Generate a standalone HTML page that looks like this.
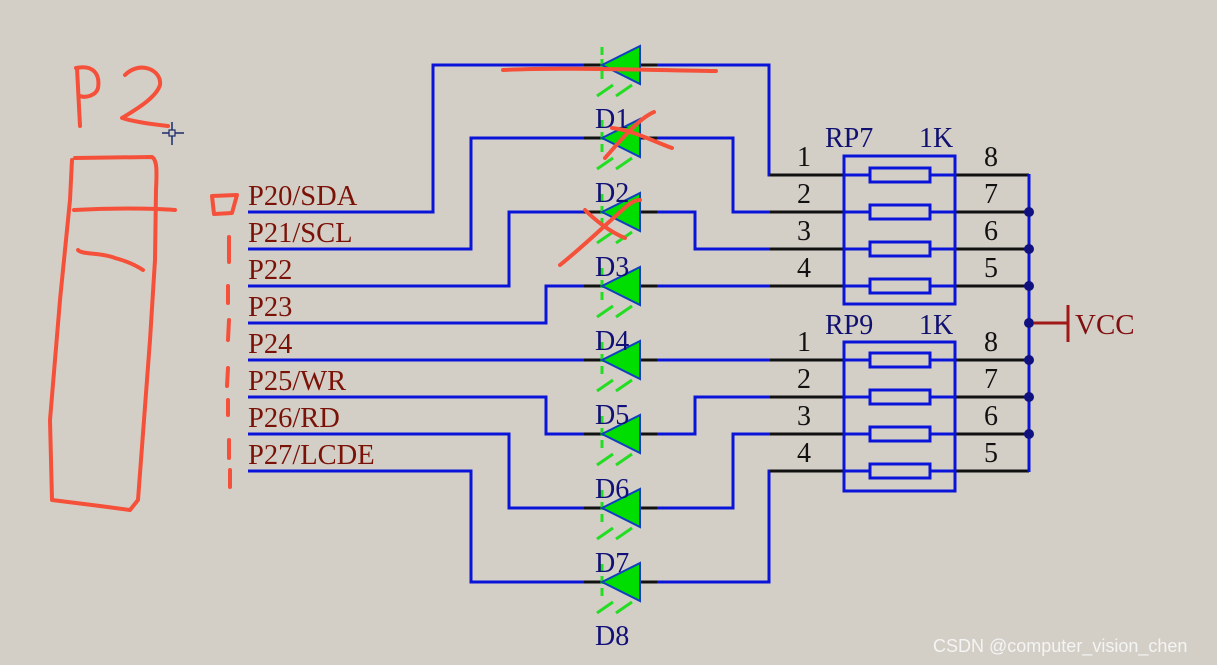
<!DOCTYPE html>
<html><head><meta charset="utf-8"><style>
html,body{margin:0;padding:0;background:#d4cfc6;}
svg{display:block;}
text{font-family:"Liberation Serif",serif;}
</style></head><body>
<svg width="1217" height="665" viewBox="0 0 1217 665" xmlns="http://www.w3.org/2000/svg">
<rect width="1217" height="665" fill="#d4cfc6"/>
<g fill="none" stroke="#0a14d8" stroke-width="3">
<polyline points="248,212 433,212 433,65 584,65"/><polyline points="657,65 769,65 769,175 843,175"/>
<polyline points="248,249 471,249 471,138 584,138"/><polyline points="657,138 733,138 733,212 843,212"/>
<polyline points="248,286 509,286 509,212 584,212"/><polyline points="657,212 695,212 695,249 843,249"/>
<polyline points="248,323 546,323 546,286 584,286"/><polyline points="657,286 843,286"/>
<polyline points="248,360 584,360"/><polyline points="657,360 843,360"/>
<polyline points="248,397 546,397 546,434 584,434"/><polyline points="657,434 695,434 695,397 843,397"/>
<polyline points="248,434 509,434 509,508 584,508"/><polyline points="657,508 733,508 733,434 843,434"/>
<polyline points="248,471 471,471 471,582 584,582"/><polyline points="657,582 769,582 769,471 843,471"/>
</g>
<g stroke="#111" stroke-width="3">
<line x1="584" y1="65" x2="602" y2="65"/><line x1="640" y1="65" x2="657" y2="65"/>
<line x1="584" y1="138" x2="602" y2="138"/><line x1="640" y1="138" x2="657" y2="138"/>
<line x1="584" y1="212" x2="602" y2="212"/><line x1="640" y1="212" x2="657" y2="212"/>
<line x1="584" y1="286" x2="602" y2="286"/><line x1="640" y1="286" x2="657" y2="286"/>
<line x1="584" y1="360" x2="602" y2="360"/><line x1="640" y1="360" x2="657" y2="360"/>
<line x1="584" y1="434" x2="602" y2="434"/><line x1="640" y1="434" x2="657" y2="434"/>
<line x1="584" y1="508" x2="602" y2="508"/><line x1="640" y1="508" x2="657" y2="508"/>
<line x1="584" y1="582" x2="602" y2="582"/><line x1="640" y1="582" x2="657" y2="582"/>
<line x1="770" y1="175" x2="843" y2="175"/><line x1="770" y1="212" x2="843" y2="212"/>
<line x1="770" y1="249" x2="843" y2="249"/><line x1="770" y1="286" x2="843" y2="286"/>
<line x1="770" y1="360" x2="843" y2="360"/><line x1="770" y1="397" x2="843" y2="397"/>
<line x1="770" y1="434" x2="843" y2="434"/><line x1="770" y1="471" x2="843" y2="471"/>
<line x1="955" y1="175" x2="1029" y2="175"/><line x1="955" y1="212" x2="1029" y2="212"/>
<line x1="955" y1="249" x2="1029" y2="249"/><line x1="955" y1="286" x2="1029" y2="286"/>
<line x1="955" y1="360" x2="1029" y2="360"/><line x1="955" y1="397" x2="1029" y2="397"/>
<line x1="955" y1="434" x2="1029" y2="434"/><line x1="955" y1="471" x2="1029" y2="471"/>
</g>
<line x1="1029" y1="174" x2="1029" y2="472" stroke="#0a14d8" stroke-width="3"/>
<g fill="#101080">
<circle cx="1029" cy="212" r="5"/><circle cx="1029" cy="249" r="5"/><circle cx="1029" cy="286" r="5"/>
<circle cx="1029" cy="323" r="5"/><circle cx="1029" cy="360" r="5"/><circle cx="1029" cy="397" r="5"/><circle cx="1029" cy="434" r="5"/>
</g>
<line x1="1034" y1="323" x2="1068" y2="323" stroke="#a01818" stroke-width="3"/>
<line x1="1068" y1="305" x2="1068" y2="342" stroke="#a01818" stroke-width="3"/>
<text x="1075" y="334" font-size="29" fill="#801010">VCC</text>
<g fill="none" stroke="#0a14d8" stroke-width="3">
<rect x="844" y="156" width="111" height="148"/><rect x="844" y="342" width="111" height="149"/>
<rect x="870" y="168" width="60" height="14"/><rect x="870" y="205" width="60" height="14"/>
<rect x="870" y="242" width="60" height="14"/><rect x="870" y="279" width="60" height="14"/>
<rect x="870" y="353" width="60" height="14"/><rect x="870" y="390" width="60" height="14"/>
<rect x="870" y="427" width="60" height="14"/><rect x="870" y="464" width="60" height="14"/>
<line x1="844" y1="175" x2="870" y2="175"/><line x1="930" y1="175" x2="955" y2="175"/>
<line x1="844" y1="212" x2="870" y2="212"/><line x1="930" y1="212" x2="955" y2="212"/>
<line x1="844" y1="249" x2="870" y2="249"/><line x1="930" y1="249" x2="955" y2="249"/>
<line x1="844" y1="286" x2="870" y2="286"/><line x1="930" y1="286" x2="955" y2="286"/>
<line x1="844" y1="360" x2="870" y2="360"/><line x1="930" y1="360" x2="955" y2="360"/>
<line x1="844" y1="397" x2="870" y2="397"/><line x1="930" y1="397" x2="955" y2="397"/>
<line x1="844" y1="434" x2="870" y2="434"/><line x1="930" y1="434" x2="955" y2="434"/>
<line x1="844" y1="471" x2="870" y2="471"/><line x1="930" y1="471" x2="955" y2="471"/>
</g>
<g font-size="28" fill="#101070">
<text x="825" y="147">RP7</text><text x="919" y="147">1K</text>
<text x="825" y="334">RP9</text><text x="919" y="334">1K</text>
</g>
<g font-size="28" fill="#111">
<text x="797" y="166">1</text><text x="797" y="203">2</text><text x="797" y="240">3</text><text x="797" y="277">4</text>
<text x="984" y="166">8</text><text x="984" y="203">7</text><text x="984" y="240">6</text><text x="984" y="277">5</text>
<text x="797" y="351">1</text><text x="797" y="388">2</text><text x="797" y="425">3</text><text x="797" y="462">4</text>
<text x="984" y="351">8</text><text x="984" y="388">7</text><text x="984" y="425">6</text><text x="984" y="462">5</text>
</g>
<defs>
<g id="d">
<line x1="602" y1="-18" x2="602" y2="18" stroke="#22dd22" stroke-width="3" stroke-dasharray="8,4"/>
<polygon points="602,0 640,-19 640,19" fill="#00dd00" stroke="#1040c0" stroke-width="2"/>
<line x1="597" y1="31" x2="613" y2="20" stroke="#22dd22" stroke-width="3"/>
<line x1="616" y1="31" x2="632" y2="20" stroke="#22dd22" stroke-width="3"/>
</g>
</defs>
<use href="#d" y="65"/><use href="#d" y="138"/><use href="#d" y="212"/><use href="#d" y="286"/>
<use href="#d" y="360"/><use href="#d" y="434"/><use href="#d" y="508"/><use href="#d" y="582"/>
<g font-size="28" fill="#101078">
<text x="595" y="128">D1</text><text x="595" y="202">D2</text><text x="595" y="276">D3</text><text x="595" y="350">D4</text>
<text x="595" y="424">D5</text><text x="595" y="498">D6</text><text x="595" y="572">D7</text><text x="595" y="645">D8</text>
</g>
<g font-size="28.5" fill="#7a1208">
<text x="248" y="205">P20/SDA</text><text x="248" y="242">P21/SCL</text><text x="248" y="279">P22</text>
<text x="248" y="316">P23</text><text x="248" y="353">P24</text><text x="248" y="390">P25/WR</text>
<text x="248" y="427">P26/RD</text><text x="248" y="464">P27/LCDE</text>
</g>
<g fill="none" stroke="#f5503a" stroke-width="4" stroke-linecap="round" stroke-linejoin="round">
<path d="M77,68 L80,126 M76,68 C95,64 100,76 98,88 C96,96 85,98 80,96"/>
<path d="M125,75 C140,60 162,70 160,85 C156,98 135,110 122,118 C135,122 150,124 168,126"/>
<path d="M75,158 L152,157 C157,160 157,170 156,190 L155,260 L150,340 L138,500 L130,510 L100,506 L52,500 L50,420 L60,300 L70,200 L72,160"/>
<path d="M74,210 C110,208 150,208 175,210"/>
<path d="M78,250 C82,255 100,252 115,258 C130,262 140,268 143,270"/>
<path d="M212,196 L237,195 L232,213 L214,214 Z"/>
<path d="M229,237 L229,262 M228,286 L228,303 M229,320 L228,340 M228,368 L227,386 M228,400 L228,415 M229,440 L229,458 M230,470 L230,487"/>
<path d="M503,70 C560,67 640,70 716,71"/>
<path d="M605,158 C625,135 640,118 654,112 M612,128 C632,130 655,142 672,148"/>
<path d="M560,265 C585,245 605,225 628,205 C635,200 638,200 640,200 M585,210 C595,220 610,232 625,238"/>
</g>
<g stroke="#1a2a6a" stroke-width="1.5">
<line x1="162" y1="133" x2="184" y2="133"/><line x1="172" y1="122" x2="172" y2="145"/>
</g>
<rect x="169" y="130" width="6" height="6" fill="#d4cfc6" stroke="#1a2a6a" stroke-width="1.2"/>
<text x="933" y="652" font-size="18" fill="#f4f4f4" style="font-family:'Liberation Sans',sans-serif">CSDN @computer_vision_chen</text>
</svg>
</body></html>
